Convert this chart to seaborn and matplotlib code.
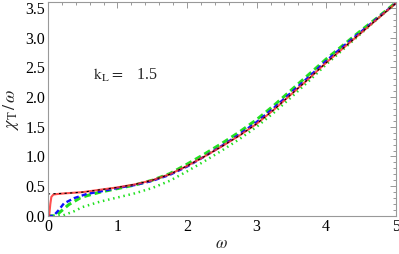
import numpy as np
import pandas as pd
import matplotlib
matplotlib.use("Agg")
import matplotlib.pyplot as plt
from matplotlib.ticker import MultipleLocator
import seaborn as sns

# ---- data ----
w_black = [0.0, 0.25, 0.5, 0.75, 1.0, 1.25, 1.5, 1.75, 2.0, 2.25, 2.5, 2.75, 3.0, 3.25, 3.5, 3.75, 4.0, 4.25, 4.5, 4.75, 5.0]
v_black = [0.37, 0.38, 0.40, 0.44, 0.48, 0.53, 0.60, 0.70, 0.84, 1.00, 1.17, 1.35, 1.55, 1.79, 2.05, 2.31, 2.58, 2.83, 3.08, 3.33, 3.58]

w_red = [0.0, 0.02, 0.035, 0.05, 0.08, 0.15, 0.25, 0.5, 0.75, 1.0, 1.25, 1.5, 1.75, 2.0, 2.25, 2.5, 2.75, 3.0, 3.25, 3.5, 3.75, 4.0, 4.25, 4.5, 4.75, 5.0]
v_red = [0.0, 0.02, 0.20, 0.32, 0.36, 0.37, 0.38, 0.40, 0.44, 0.48, 0.53, 0.60, 0.70, 0.84, 1.00, 1.17, 1.35, 1.55, 1.79, 2.05, 2.31, 2.58, 2.83, 3.08, 3.33, 3.58]

w_blue = [0.0, 0.08, 0.15, 0.23, 0.38, 0.56, 0.75, 1.0, 1.25, 1.5, 1.75, 2.0, 2.25, 2.5, 2.75, 3.0, 3.25, 3.5, 3.75, 4.0, 4.25, 4.5, 4.75, 5.0]
v_blue = [0.0, 0.0, 0.09, 0.21, 0.30, 0.37, 0.41, 0.47, 0.52, 0.59, 0.69, 0.83, 1.00, 1.18, 1.37, 1.58, 1.82, 2.08, 2.34, 2.61, 2.86, 3.10, 3.34, 3.58]

w_gdash = [0.0, 0.12, 0.16, 0.3, 0.46, 0.56, 0.75, 1.0, 1.25, 1.5, 1.75, 2.0, 2.25, 2.5, 2.75, 3.0, 3.25, 3.5, 3.75, 4.0, 4.25, 4.5, 4.75, 5.0]
v_gdash = [0.0, 0.0, 0.05, 0.19, 0.30, 0.34, 0.40, 0.46, 0.52, 0.60, 0.71, 0.87, 1.04, 1.22, 1.41, 1.62, 1.86, 2.12, 2.38, 2.64, 2.88, 3.12, 3.35, 3.59]

w_gdot = [0.0, 0.2, 0.38, 0.5, 0.75, 1.0, 1.25, 1.5, 1.75, 2.0, 2.25, 2.5, 2.75, 3.0, 3.25, 3.5, 3.75, 4.0, 4.25, 4.5, 4.75, 5.0]
v_gdot = [0.0, 0.0, 0.08, 0.15, 0.24, 0.31, 0.38, 0.47, 0.59, 0.75, 0.92, 1.10, 1.29, 1.50, 1.74, 2.00, 2.27, 2.55, 2.81, 3.07, 3.33, 3.58]

x_ticks = [0, 1, 2, 3, 4, 5]
y_ticks = [0.0, 0.5, 1.0, 1.5, 2.0, 2.5, 3.0, 3.5]
annot = r"$\mathrm{k_L} =$   1.5"

sns.set_theme(style="white")
plt.rcParams["font.family"] = ["Liberation Serif", "DejaVu Serif"]
plt.rcParams["mathtext.fontset"] = "stix"

fig = plt.figure(figsize=(3.99, 2.54), dpi=100)
ax = fig.add_axes([0.120, 0.150, 0.872, 0.842])

series = [
    (w_gdot, v_gdot, dict(color="#22e022", lw=1.8, linestyle=(0, (0.6, 1.5)))),
    (w_gdash, v_gdash, dict(color="#22e022", lw=2.2, linestyle=(0, (2.2, 1.3)))),
    (w_blue, v_blue, dict(color="#1010ff", lw=1.7, linestyle=(0, (2.2, 1.3)))),
    (w_red, v_red, dict(color="#ff3030", lw=1.5, alpha=0.85, linestyle="-")),
    (w_black, v_black, dict(color="black", lw=0.8, linestyle=(0, (2, 3)))),
]
for xs, ys, kw in series:
    df = pd.DataFrame({"w": xs, "v": ys})
    sns.lineplot(data=df, x="w", y="v", ax=ax, sort=False, estimator=None, **kw)

ax.set_xlim(0, 5)
ax.set_ylim(0, 3.6)
ax.set_xticks(x_ticks)
ax.set_xticklabels([str(t) for t in x_ticks])
ax.set_yticks(y_ticks)
ax.set_yticklabels([f"{t:.1f}" for t in y_ticks])
ax.xaxis.set_minor_locator(MultipleLocator(0.2))
ax.yaxis.set_minor_locator(MultipleLocator(0.1))
ax.tick_params(which="both", direction="in", top=True, right=True, colors="#888888",
               labelcolor="black", labelsize=11.5, width=0.6, pad=2)
ax.tick_params(which="major", length=4)
ax.tick_params(which="minor", length=2)
for s in ax.spines.values():
    s.set_color("#999999")
    s.set_linewidth(0.8)

ax.set_xlabel(r"$\omega$", fontsize=12, labelpad=1)
ax.set_ylabel(r"$\chi_{\mathrm{T}}\,/\,\omega$", fontsize=13, labelpad=3)
ax.text(0.65, 2.37, annot, fontsize=11.5, ha="left", va="center")

fig.savefig("out.png", dpi=100)
